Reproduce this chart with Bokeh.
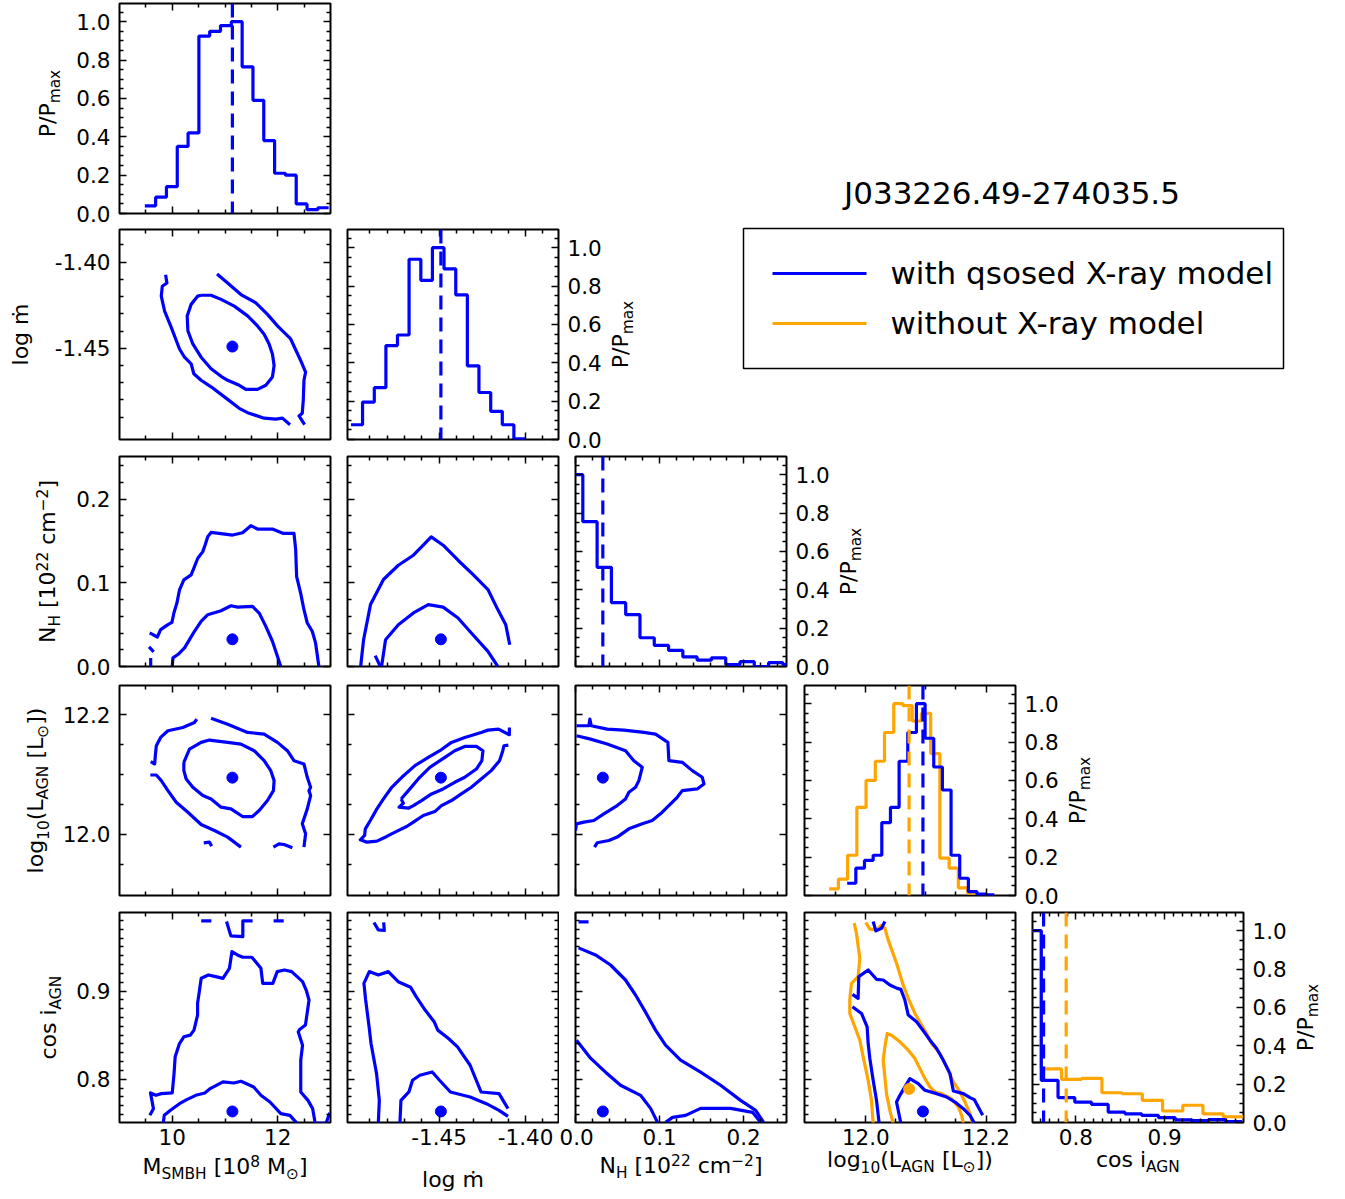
import math
from bokeh.plotting import figure
from bokeh.models import (Range1d, LinearAxis, FixedTicker, PrintfTickFormatter, Span,
                          Label, BoxAnnotation, ColumnDataSource)
from bokeh.core.properties import value
from bokeh.layouts import row, column
from bokeh.embed import file_html
from bokeh.resources import INLINE

BLUE = "#0000ff"
ORANGE = "#ffa500"
FONT = "DejaVu Sans"

TITLE = "J033226.49-274035.5"
LEGEND_LABELS = ["with qsosed X-ray model", "without X-ray model"]

# ---------------- best-fit values ----------------
BEST = [11.14, -1.449, 0.0325, 12.095, 0.7635]          # with X-ray model
BEST_NOX_L = 12.072                                       # without X-ray model
BEST_NOX_COS = 0.789

# ---------------- 1-D posteriors (P/Pmax) ----------------
HIST_M_EDGES = [9.48, 9.685, 9.89, 10.095, 10.30, 10.505, 10.71, 10.915, 11.12, 11.325,
                11.53, 11.735, 11.94, 12.145, 12.35, 12.555, 12.76, 12.965]
HIST_M_VALUES = [0.04, 0.085, 0.14, 0.35, 0.42, 0.925, 0.95, 0.98, 1.0, 0.765, 0.59, 0.38,
                 0.21, 0.20, 0.05, 0.02, 0.03]

HIST_MDOT_EDGES = [-1.501, -1.4943, -1.4875, -1.4808, -1.4741, -1.4674, -1.4606, -1.4539,
                   -1.4472, -1.4404, -1.4337, -1.4270, -1.4202, -1.4135, -1.4068, -1.4001]
HIST_MDOT_VALUES = [0.077, 0.195, 0.27, 0.49, 0.545, 0.94, 0.83, 1.0, 0.89, 0.754, 0.384,
                    0.245, 0.147, 0.077, 0.004]

HIST_NH_EDGES = [-0.0083, 0.0087, 0.0257, 0.0427, 0.0597, 0.0767, 0.0937, 0.1107, 0.1277,
                 0.1447, 0.1617, 0.1787, 0.1957, 0.2127, 0.2297, 0.2467, 0.2637]
HIST_NH_VALUES = [1.0, 0.755, 0.517, 0.333, 0.27, 0.15, 0.11, 0.084, 0.05, 0.033, 0.045,
                  0.01, 0.025, 0.0, 0.02, 0.01]

HIST_L_EDGES_X = [11.969, 11.9834, 11.9978, 12.0122, 12.0266, 12.041, 12.0554, 12.0698,
                  12.0842, 12.0986, 12.113, 12.1274, 12.1418, 12.1562, 12.1706, 12.185,
                  12.1994, 12.2138]
HIST_L_VALUES_X = [0.064, 0.143, 0.183, 0.21, 0.38, 0.46, 0.70, 0.85, 1.0, 0.82, 0.67, 0.55,
                   0.21, 0.09, 0.02, 0.007, 0.004]
HIST_L_EDGES_NOX = [11.939, 11.9544, 11.9697, 11.9851, 12.0004, 12.0158, 12.0311, 12.0465,
                    12.0618, 12.0772, 12.0925, 12.1079, 12.1232, 12.1386, 12.1539, 12.1693,
                    12.1846]
HIST_L_VALUES_NOX = [0.035, 0.085, 0.21, 0.46, 0.60, 0.70, 0.85, 1.0, 0.99, 0.91, 0.95, 0.74,
                     0.195, 0.143, 0.04, 0.012]

HIST_COS_EDGES_X = [0.742, 0.7609, 0.7798, 0.7987, 0.8176, 0.8364, 0.8553, 0.8742, 0.8931,
                    0.9120, 0.9308, 0.9497, 0.9686, 0.9875]
HIST_COS_VALUES_X = [1.0, 0.22, 0.13, 0.106, 0.094, 0.054, 0.045, 0.037, 0.025, 0.014, 0.01,
                     0.015, 0.005]
HIST_COS_EDGES_NOX = [0.7381, 0.7609, 0.7837, 0.8065, 0.8293, 0.8521, 0.8749, 0.8977, 0.9205,
                      0.9433, 0.9661, 0.9889]
HIST_COS_VALUES_NOX = [1.0, 0.28, 0.225, 0.23, 0.155, 0.15, 0.115, 0.06, 0.09, 0.045, 0.03]

# ---------------- 2-D contours (68% inner / 95% outer) ----------------
M_MDOT_OUTER_L = [(9.874, -1.4073), (9.899, -1.4121), (9.811, -1.4140), (9.792, -1.4197), (9.855, -1.4284),
                  (9.981, -1.4379), (10.138, -1.4504), (10.233, -1.4552), (10.358, -1.4590), (10.409, -1.4648),
                  (10.547, -1.4686), (10.736, -1.4724), (11.050, -1.4797), (11.270, -1.4849), (11.428, -1.4874),
                  (11.742, -1.4906), (11.962, -1.4912), (12.088, -1.4906), (12.233, -1.4944)]
M_MDOT_OUTER_R = [(10.849, -1.4069), (11.050, -1.4121), (11.302, -1.4188), (11.585, -1.4236), (11.805, -1.4303),
                  (11.994, -1.4370), (12.245, -1.4446), (12.434, -1.4571), (12.528, -1.4638), (12.497, -1.4686),
                  (12.484, -1.4801), (12.465, -1.4877), (12.403, -1.4893), (12.509, -1.4944)]
M_MDOT_INNER = [(10.547, -1.4192), (10.736, -1.4192), (10.925, -1.4216), (11.176, -1.4255), (11.428, -1.4312),
                (11.616, -1.4370), (11.742, -1.4418), (11.836, -1.4475), (11.899, -1.4533), (11.931, -1.4600),
                (11.899, -1.4667), (11.774, -1.4715), (11.616, -1.4739), (11.396, -1.4739), (11.270, -1.4715),
                (11.050, -1.4686), (10.925, -1.4663), (10.736, -1.4619), (10.547, -1.4552), (10.390, -1.4475),
                (10.296, -1.4398), (10.283, -1.4312), (10.358, -1.4245), (10.484, -1.4197), (10.547, -1.4192)]

M_NH_OUTER = [(9.572, 0.0401), (9.717, 0.0353), (9.780, 0.0440), (9.918, 0.0500), (9.994, 0.0528),
              (10.031, 0.0639), (10.088, 0.0758), (10.138, 0.0917), (10.220, 0.1036), (10.358, 0.1095),
              (10.421, 0.1194), (10.484, 0.1294), (10.579, 0.1373), (10.623, 0.1452), (10.673, 0.1552),
              (10.736, 0.1603), (11.145, 0.1571), (11.333, 0.1599), (11.491, 0.1683), (11.616, 0.1643),
              (11.899, 0.1643), (12.107, 0.1591), (12.308, 0.1591), (12.340, 0.1393), (12.358, 0.1075),
              (12.434, 0.0877), (12.497, 0.0679), (12.560, 0.0520), (12.654, 0.0421), (12.717, 0.0282),
              (12.780, 0.0)]
M_NH_OUTER_B = [(9.560, 0.0234), (9.648, 0.0175)]
M_NH_OUTER_C = [(9.591, 0.0103), (9.591, 0.0)]
M_NH_INNER = [(10.0, 0.0), (10.013, 0.0103), (10.107, 0.0143), (10.233, 0.0222), (10.327, 0.0321),
              (10.421, 0.0421), (10.547, 0.0540), (10.673, 0.0619), (10.925, 0.0667), (11.113, 0.0726),
              (11.239, 0.0710), (11.522, 0.0718), (11.648, 0.0639), (11.774, 0.0480), (11.899, 0.0302),
              (11.994, 0.0123), (12.057, 0.0)]

MDOT_NH_OUTER = [(-1.4954, 0.0), (-1.4937, 0.032), (-1.4897, 0.074), (-1.4822, 0.104), (-1.4736, 0.121),
                 (-1.4649, 0.133), (-1.4592, 0.145), (-1.4546, 0.155), (-1.4477, 0.145), (-1.4391, 0.127),
                 (-1.4305, 0.110), (-1.4218, 0.092), (-1.4161, 0.068), (-1.4115, 0.050), (-1.4092, 0.026)]
MDOT_NH_OUTER_B = [(-1.487, 0.013), (-1.484, 0.0)]
MDOT_NH_INNER = [(-1.4833, 0.0), (-1.4810, 0.032), (-1.4736, 0.050), (-1.4649, 0.064), (-1.4563, 0.074),
                 (-1.4477, 0.071), (-1.4391, 0.058), (-1.4305, 0.038), (-1.4218, 0.018), (-1.4161, 0.0)]

M_L_A = [(10.465, 12.1928), (10.421, 12.1872), (10.201, 12.1789), (9.918, 12.1733), (9.780, 12.1622),
         (9.698, 12.1483), (9.679, 12.1317), (9.667, 12.1178), (9.591, 12.1217)]
M_L_B = [(9.585, 12.0994), (9.698, 12.0994), (9.792, 12.0900), (9.918, 12.0733), (10.075, 12.0539),
         (10.296, 12.0372), (10.547, 12.0167), (10.799, 12.0067), (11.050, 11.9956), (11.302, 11.9789)]
M_L_C = [(10.597, 11.9861), (10.704, 11.9872), (10.748, 11.9806)]
M_L_D = [(11.918, 11.9789), (12.025, 11.9844), (12.119, 11.9833), (12.277, 11.9778)]
M_L_E = [(10.736, 12.1944), (11.050, 12.1844), (11.428, 12.1706), (11.742, 12.1678), (11.994, 12.1539),
         (12.182, 12.1400), (12.308, 12.1233), (12.497, 12.1178), (12.560, 12.0956), (12.623, 12.0789),
         (12.591, 12.0733), (12.623, 12.0650), (12.560, 12.0428), (12.465, 12.0178), (12.528, 12.0011),
         (12.497, 11.9789)]
M_L_INNER = [(10.220, 12.1206), (10.327, 12.1428), (10.547, 12.1539), (10.704, 12.1578), (11.050, 12.1539),
             (11.302, 12.1511), (11.553, 12.1400), (11.742, 12.1233), (11.868, 12.1067), (11.931, 12.0900),
             (11.918, 12.0733), (11.805, 12.0567), (11.648, 12.0400), (11.522, 12.0300), (11.333, 12.0300),
             (11.113, 12.0428), (10.925, 12.0456), (10.736, 12.0594), (10.579, 12.0650), (10.390, 12.0789),
             (10.264, 12.0928), (10.220, 12.1067), (10.220, 12.1206)]

MDOT_L_OUTER = [(-1.4094, 12.1789), (-1.4094, 12.1667), (-1.4157, 12.1761), (-1.4218, 12.1744), (-1.4257, 12.1706),
                (-1.4352, 12.1622), (-1.4429, 12.1539), (-1.4496, 12.1400), (-1.4563, 12.1289), (-1.4640, 12.1150),
                (-1.4716, 12.0956), (-1.4774, 12.0789), (-1.4822, 12.0594), (-1.4860, 12.0428), (-1.4898, 12.0233),
                (-1.4927, 12.0094), (-1.4931, 11.9983), (-1.4956, 11.9911), (-1.4918, 11.9872), (-1.4860, 11.9889),
                (-1.4803, 11.9967), (-1.4755, 12.0039), (-1.4688, 12.0133), (-1.4649, 12.0206), (-1.4592, 12.0317),
                (-1.4525, 12.0383), (-1.4487, 12.0483), (-1.4429, 12.0567), (-1.4372, 12.0678), (-1.4314, 12.0789),
                (-1.4257, 12.0928), (-1.4199, 12.1067), (-1.4151, 12.1233), (-1.4132, 12.1400), (-1.4126, 12.1483),
                (-1.4100, 12.1494)]
MDOT_L_INNER = [(-1.4720, 12.0594), (-1.4678, 12.0733), (-1.4621, 12.0928), (-1.4554, 12.1122), (-1.4467, 12.1289),
                (-1.4410, 12.1400), (-1.4352, 12.1472), (-1.4285, 12.1472), (-1.4247, 12.1400), (-1.4253, 12.1233),
                (-1.4285, 12.1094), (-1.4352, 12.0956), (-1.4410, 12.0872), (-1.4477, 12.0761), (-1.4544, 12.0678),
                (-1.4602, 12.0567), (-1.4649, 12.0483), (-1.4678, 12.0439), (-1.4732, 12.0456), (-1.4707, 12.0522),
                (-1.4720, 12.0594)]

NH_L_OUTER = [(0.0012, 12.1817), (0.0159, 12.1817), (0.0171, 12.1928), (0.0187, 12.1817), (0.0377, 12.1761),
              (0.0575, 12.1744), (0.0813, 12.1706), (0.0952, 12.1678), (0.1099, 12.1539), (0.1111, 12.1233),
              (0.1270, 12.1206), (0.1389, 12.1067), (0.1508, 12.0956), (0.1528, 12.0844), (0.1448, 12.0761),
              (0.1270, 12.0733), (0.1210, 12.0622), (0.1131, 12.0511), (0.1032, 12.0372), (0.0913, 12.0233),
              (0.0794, 12.0178), (0.0635, 12.0094), (0.0496, 11.9956), (0.0397, 11.9900), (0.0258, 11.9861),
              (0.0226, 11.9789)]
NH_L_INNER = [(0.0012, 12.1650), (0.0179, 12.1594), (0.0377, 12.1511), (0.0595, 12.1400), (0.0694, 12.1233),
              (0.0794, 12.1122), (0.0754, 12.0900), (0.0714, 12.0789), (0.0635, 12.0706), (0.0595, 12.0594),
              (0.0496, 12.0483), (0.0337, 12.0344), (0.0218, 12.0233), (0.0099, 12.0206), (0.0012, 12.0178),
              (0.0, 12.0067)]

M_COS_OUTER = [(9.575, 0.7591), (9.643, 0.7667), (9.588, 0.7845), (9.691, 0.7818), (9.794, 0.7837),
               (10.000, 0.7845), (10.034, 0.8064), (10.055, 0.8254), (10.137, 0.8405), (10.220, 0.8481),
               (10.343, 0.8500), (10.412, 0.8557), (10.480, 0.8727), (10.480, 0.8860), (10.515, 0.9004),
               (10.549, 0.9144), (10.686, 0.9182), (10.823, 0.9163), (10.961, 0.9144), (11.084, 0.9258),
               (11.132, 0.9447), (11.235, 0.9409), (11.338, 0.9383), (11.509, 0.9383), (11.681, 0.9258),
               (11.715, 0.9087), (11.907, 0.9087), (11.990, 0.9220), (12.127, 0.9239), (12.264, 0.9220),
               (12.470, 0.9106), (12.539, 0.9011), (12.593, 0.8898), (12.525, 0.8614), (12.415, 0.8564),
               (12.388, 0.8538), (12.470, 0.8386), (12.436, 0.8216), (12.436, 0.7856), (12.573, 0.7761),
               (12.662, 0.7667), (12.710, 0.75), (12.916, 0.75), (12.985, 0.7621)]
M_COS_TOP_A = [(10.549, 0.9795), (10.741, 0.9795)]
M_COS_TOP_B = [(11.029, 0.9788), (11.111, 0.9625), (11.338, 0.9617), (11.338, 0.9795), (11.523, 0.9795)]
M_COS_TOP_C = [(11.921, 0.9795), (12.113, 0.9795)]
M_COS_INNER = [(9.828, 0.75), (9.849, 0.7591), (9.966, 0.7648), (10.137, 0.7723), (10.274, 0.7769),
               (10.446, 0.7818), (10.617, 0.7845), (10.720, 0.7894), (10.961, 0.7970), (11.166, 0.7958),
               (11.304, 0.7977), (11.544, 0.7913), (11.681, 0.7818), (11.852, 0.7742), (12.058, 0.7610),
               (12.230, 0.7591), (12.367, 0.75)]

MDOT_COS_OUTER = [(-1.4852, 0.75), (-1.4846, 0.7761), (-1.4862, 0.8064), (-1.4894, 0.8405), (-1.4904, 0.8576),
                  (-1.4925, 0.8898), (-1.4935, 0.9087), (-1.4904, 0.9220), (-1.4852, 0.9182), (-1.4794, 0.9220),
                  (-1.4737, 0.9106), (-1.4665, 0.9042), (-1.4633, 0.8936), (-1.4581, 0.8784), (-1.4529, 0.8652),
                  (-1.4508, 0.8557), (-1.4446, 0.8462), (-1.4394, 0.8367), (-1.4321, 0.8159), (-1.4258, 0.7856),
                  (-1.4154, 0.7837), (-1.4102, 0.7667)]
MDOT_COS_INNER = [(-1.4727, 0.75), (-1.4721, 0.7761), (-1.4675, 0.7856), (-1.4654, 0.7989), (-1.4612, 0.8045),
                  (-1.4540, 0.8083), (-1.4498, 0.7989), (-1.4435, 0.7856), (-1.4321, 0.7799), (-1.4227, 0.7723),
                  (-1.4154, 0.7648), (-1.4102, 0.7580)]
MDOT_COS_TOP = [(-1.4877, 0.9777), (-1.4852, 0.9693), (-1.4817, 0.9686), (-1.4821, 0.9777)]

NH_COS_OUTER = [(0.0036, 0.9489), (0.0238, 0.9409), (0.0417, 0.9295), (0.0595, 0.9125), (0.0714, 0.8955),
                (0.0833, 0.8761), (0.0952, 0.8557), (0.1071, 0.8386), (0.1250, 0.8216), (0.1488, 0.8080),
                (0.1726, 0.7932), (0.1964, 0.7761), (0.2143, 0.7648), (0.2238, 0.7511)]
NH_COS_INNER_A = [(0.0012, 0.8443), (0.0179, 0.8239), (0.0357, 0.8080), (0.0536, 0.7932), (0.0774, 0.7818),
                  (0.0893, 0.7670), (0.0976, 0.7511)]
NH_COS_INNER_B = [(0.1071, 0.7511), (0.1155, 0.7568), (0.1310, 0.7591), (0.1488, 0.7670), (0.1845, 0.7670),
                  (0.2107, 0.7625), (0.2202, 0.7511)]
NH_COS_TOP = [(0.0036, 0.9784), (0.0155, 0.9784)]

L_COS_X_A = [(12.0222, 0.75), (12.0178, 0.7761), (12.0122, 0.7989), (12.0067, 0.8235), (12.0039, 0.8405),
             (12.0022, 0.8595), (11.9928, 0.8746), (11.9778, 0.8822)]
L_COS_X_B = [(11.9778, 0.8962), (11.9872, 0.8917), (11.9883, 0.9163), (12.0039, 0.9239), (12.0178, 0.9133),
             (12.0289, 0.9125), (12.0400, 0.9068), (12.0522, 0.9030), (12.0583, 0.9019), (12.0650, 0.8898),
             (12.0706, 0.8727), (12.0844, 0.8652), (12.0956, 0.8549), (12.1067, 0.8443), (12.1178, 0.8348),
             (12.1289, 0.8216), (12.1400, 0.8064), (12.1456, 0.7867), (12.1622, 0.7837), (12.1733, 0.7792),
             (12.1806, 0.7769), (12.1944, 0.7591)]
L_COS_X_INNER = [(12.0583, 0.75), (12.0511, 0.7742), (12.0567, 0.7818), (12.0650, 0.7913), (12.0733, 0.8008),
                 (12.0872, 0.7951), (12.0983, 0.7875), (12.1178, 0.7837), (12.1344, 0.7799), (12.1483, 0.7742),
                 (12.1622, 0.7667), (12.1733, 0.7591), (12.1806, 0.75)]
L_COS_X_TOP = [(12.0122, 0.9788), (12.0167, 0.9682), (12.0261, 0.9712), (12.0317, 0.9788)]

L_COS_NOX_LEFT = [(11.9806, 0.9769), (11.9844, 0.9655), (11.9900, 0.9371), (11.9872, 0.9163), (11.9761, 0.9087),
                  (11.9733, 0.8898), (11.9733, 0.8746), (11.9817, 0.8595), (11.9900, 0.8443), (11.9956, 0.8254),
                  (12.0039, 0.7989), (12.0094, 0.7761), (12.0122, 0.75)]
L_COS_NOX_TOP = [(12.0, 0.9777), (12.0067, 0.9701), (12.0189, 0.9693), (12.0244, 0.9739)]
L_COS_NOX_RIGHT = [(12.0233, 0.9750), (12.0317, 0.9712), (12.0372, 0.9580), (12.0511, 0.9314), (12.0622, 0.9068),
                   (12.0706, 0.8917), (12.0817, 0.8746), (12.0928, 0.8614), (12.1011, 0.8519), (12.1094, 0.8405),
                   (12.1233, 0.8292), (12.1344, 0.8140), (12.1456, 0.7970), (12.1567, 0.7856), (12.1650, 0.7742),
                   (12.1733, 0.7610), (12.1778, 0.75)]
L_COS_NOX_INNER = [(12.0456, 0.75), (12.0400, 0.7648), (12.0344, 0.7837), (12.0317, 0.8027), (12.0289, 0.8216),
                   (12.0317, 0.8367), (12.0356, 0.8519), (12.0428, 0.8500), (12.0567, 0.8424), (12.0706, 0.8330),
                   (12.0817, 0.8235), (12.0900, 0.8121), (12.0983, 0.8008), (12.1067, 0.7913), (12.1150, 0.7856),
                   (12.1261, 0.7837), (12.1428, 0.7780), (12.1539, 0.7686), (12.1594, 0.7591), (12.1622, 0.75)]

# ---------------- axis definitions ----------------
AX_M = dict(range=(9.0, 13.0), ticks=[10, 12], minor=[9.5, 10.5, 11.0, 11.5, 12.5], fmt="%d")
AX_MDOT = dict(range=(-1.503, -1.381), ticks=[-1.45, -1.40],
               minor=[-1.49, -1.48, -1.47, -1.46, -1.44, -1.43, -1.42, -1.41, -1.39], fmt="%.2f")
AX_NH = dict(range=(0.0, 0.251), ticks=[0.0, 0.1, 0.2],
             minor=[0.02, 0.04, 0.06, 0.08, 0.12, 0.14, 0.16, 0.18, 0.22, 0.24], fmt="%.1f")
AX_L = dict(range=(11.898, 12.249), ticks=[12.0, 12.2], minor=[11.95, 12.05, 12.10, 12.15], fmt="%.1f")
AX_COS = dict(range=(0.751, 0.989), ticks=[0.8, 0.9],
              minor=[0.76, 0.77, 0.78, 0.79, 0.81, 0.82, 0.83, 0.84, 0.85, 0.86, 0.87, 0.88, 0.89,
                     0.91, 0.92, 0.93, 0.94, 0.95, 0.96, 0.97, 0.98], fmt="%.1f")
AX_HIST = dict(range=(0.0, 1.095), ticks=[0.0, 0.2, 0.4, 0.6, 0.8, 1.0],
               minor=[0.05, 0.1, 0.15, 0.25, 0.3, 0.35, 0.45, 0.5, 0.55, 0.65, 0.7, 0.75, 0.85, 0.9,
                      0.95, 1.05], fmt="%.1f")
AXES = [AX_M, AX_MDOT, AX_NH, AX_L, AX_COS]

HISTS = {
    0: [(BLUE, HIST_M_EDGES, HIST_M_VALUES)],
    1: [(BLUE, HIST_MDOT_EDGES, HIST_MDOT_VALUES)],
    2: [(BLUE, HIST_NH_EDGES, HIST_NH_VALUES)],
    3: [(ORANGE, HIST_L_EDGES_NOX, HIST_L_VALUES_NOX), (BLUE, HIST_L_EDGES_X, HIST_L_VALUES_X)],
    4: [(ORANGE, HIST_COS_EDGES_NOX, HIST_COS_VALUES_NOX), (BLUE, HIST_COS_EDGES_X, HIST_COS_VALUES_X)],
}
HIST_DASH = {0: [(BLUE, BEST[0])], 1: [(BLUE, BEST[1])], 2: [(BLUE, BEST[2])],
             3: [(ORANGE, BEST_NOX_L), (BLUE, BEST[3])], 4: [(ORANGE, BEST_NOX_COS), (BLUE, BEST[4])]}

CONTOURS = {
    (1, 0): [(BLUE, [M_MDOT_OUTER_L, M_MDOT_OUTER_R, M_MDOT_INNER])],
    (2, 0): [(BLUE, [M_NH_OUTER, M_NH_OUTER_B, M_NH_OUTER_C, M_NH_INNER])],
    (2, 1): [(BLUE, [MDOT_NH_OUTER, MDOT_NH_OUTER_B, MDOT_NH_INNER])],
    (3, 0): [(BLUE, [M_L_A, M_L_B, M_L_C, M_L_D, M_L_E, M_L_INNER])],
    (3, 1): [(BLUE, [MDOT_L_OUTER, MDOT_L_INNER])],
    (3, 2): [(BLUE, [NH_L_OUTER, NH_L_INNER])],
    (4, 0): [(BLUE, [M_COS_OUTER, M_COS_TOP_A, M_COS_TOP_B, M_COS_TOP_C, M_COS_INNER])],
    (4, 1): [(BLUE, [MDOT_COS_OUTER, MDOT_COS_INNER, MDOT_COS_TOP])],
    (4, 2): [(BLUE, [NH_COS_OUTER, NH_COS_INNER_A, NH_COS_INNER_B, NH_COS_TOP])],
    (4, 3): [(ORANGE, [L_COS_NOX_LEFT, L_COS_NOX_TOP, L_COS_NOX_RIGHT, L_COS_NOX_INNER]),
             (BLUE, [L_COS_X_A, L_COS_X_B, L_COS_X_INNER, L_COS_X_TOP])],
}

# ---------------- label texts (segments: normal / sub / sup) ----------------
LBL_PP = [("P/P", "n"), ("max", "sub")]
LBL_M = [("M", "n"), ("SMBH", "sub"), (" [10", "n"), ("8", "sup"), (" M", "n"), ("\u2299", "sub"), ("]", "n")]
LBL_MDOT = [("log \u1e41", "n")]
LBL_NH = [("N", "n"), ("H", "sub"), (" [10", "n"), ("22", "sup"), (" cm", "n"), ("\u22122", "sup"), ("]", "n")]
LBL_L = [("log", "n"), ("10", "sub"), ("(L", "n"), ("AGN", "sub"), (" [L", "n"), ("\u2299", "sub"), ("])", "n")]
LBL_COS = [("cos i", "n"), ("AGN", "sub")]
LABELS = [LBL_M, LBL_MDOT, LBL_NH, LBL_L, LBL_COS]

# ---------------- layout constants (pixels) ----------------
FRAME_W, FRAME_H = 211, 210
TOP_B = [3, 3, 4, 6, 4]
BOT_B = [13, 13, 13, 13, 77]
BOTTOM_TITLE_DROP = [52, 65, 51, 45, 45]        # baseline below frame
LEFT_TITLE_DX = [-64, -91, -64, -76, -63]       # baseline x relative to frame left
LEFT_TITLE_DY = [5, 0, 0, 0, 0]
RIGHT_TITLE_DX = 70
TICK_FS = "21.5px"
LABEL_FS = 22.0
BIG_FS = 31.0
MID = 0.346          # em distance from alphabetic baseline up to the em-box middle (DejaVu Sans)
LW = 3.2


def borders(r, c):
    hist = (r == c)
    lb = [119, 9, 9, 9, 9][c]
    rb = [8, 8, 9, 8, 102][c]
    if hist and c >= 1:
        rb = 100 if c < 4 else 102
    if r == 4 and c == 1:
        rb = 1
    if r == 4 and c == 2:
        lb = 16
    return lb, rb


EM = {" ": 0.318, "0": 0.636, "1": 0.636, "2": 0.636, "8": 0.636, ".": 0.318, "-": 0.361,
      "/": 0.337, "[": 0.390, "]": 0.390, "(": 0.390, ")": 0.390, "A": 0.684, "B": 0.686,
      "G": 0.775, "H": 0.752, "L": 0.557, "M": 0.863, "N": 0.748, "P": 0.603, "S": 0.635,
      "a": 0.613, "c": 0.550, "g": 0.635, "i": 0.278, "l": 0.278, "m": 0.974, "o": 0.612,
      "s": 0.521, "x": 0.592, "\u2299": 0.838, "\u1e41": 0.974, "\u2212": 0.838}


def tw(s, fs):
    return sum(EM.get(ch, 0.6) for ch in s) * fs


def rich_label(p, x, y, segs, xoff, yoff, vertical=False, fs=LABEL_FS):
    """Text made of normal/sub/superscript pieces, drawn as overlay-level text glyphs
    anchored at a data point and shifted by screen pixels; (xoff, yoff) is the baseline
    centre of the whole label (yoff > 0 = up)."""
    sfs = fs * 0.7
    sizes = [fs if k == "n" else sfs for _, k in segs]
    total = sum(tw(t, s) for (t, _), s in zip(segs, sizes))
    cur = -total / 2.0
    d = dict(x=[], y=[], text=[], xo=[], yo=[], fs=[], ang=[])
    for (t, k), s in zip(segs, sizes):
        lead = len(t) - len(t.lstrip(" "))
        cur += tw(" " * lead, s)
        t = t.lstrip(" ")
        shift = 0.0 if k == "n" else (-5.0 if k == "sub" else 8.5)
        up = shift + MID * s          # from label baseline to this piece's em-box middle
        if vertical:
            lx, ly, ang = xoff - up, yoff + cur, math.pi / 2
        else:
            lx, ly, ang = xoff + cur, yoff + up, 0.0
        d["x"].append(x)
        d["y"].append(y)
        d["text"].append(t)
        d["xo"].append(lx)
        d["yo"].append(-ly)
        d["fs"].append(f"{s:.1f}px")
        d["ang"].append(ang)
        cur += tw(t, s)
    p.text(x="x", y="y", text="text", x_offset="xo", y_offset="yo", angle="ang",
           text_font_size="fs", text_font=value(FONT), text_color="black",
           text_align="left", text_baseline="middle", level="overlay",
           source=ColumnDataSource(d))


def add_axis(p, side, ax, show):
    a = LinearAxis(ticker=FixedTicker(ticks=ax["ticks"], minor_ticks=ax["minor"]))
    a.axis_line_color = None
    a.major_tick_in, a.major_tick_out = 7, 0
    a.minor_tick_in, a.minor_tick_out = 4, 0
    a.major_tick_line_width = 1.5
    a.minor_tick_line_width = 1.5
    a.major_tick_line_color = "black"
    a.minor_tick_line_color = "black"
    if show:
        a.formatter = PrintfTickFormatter(format=ax["fmt"])
        a.major_label_text_font = FONT
        a.major_label_text_font_size = TICK_FS
        a.major_label_text_color = "black"
        a.major_label_standoff = 9 if side in ("left", "right") else 6
    else:
        a.major_label_text_font_size = "0px"
        a.major_label_text_color = None
        a.major_label_standoff = 0
    p.add_layout(a, side)


def make_panel(r, c):
    hist = (r == c)
    lb, rb = borders(r, c)
    tb, bb = TOP_B[r], BOT_B[r]
    xa = AXES[c]
    ya = AX_HIST if hist else AXES[r]
    p = figure(width=lb + FRAME_W + rb, height=tb + FRAME_H + bb,
               x_range=Range1d(*xa["range"]), y_range=Range1d(*ya["range"]),
               x_axis_type=None, y_axis_type=None, tools="", toolbar_location=None,
               output_backend="svg", min_border_left=lb, min_border_right=rb,
               min_border_top=tb, min_border_bottom=bb, title_location=None,
               outline_line_color="black", outline_line_width=2,
               background_fill_color="white", border_fill_color="white")
    add_axis(p, "below", xa, r == 4)
    add_axis(p, "above", xa, False)
    add_axis(p, "left", ya, c == 0)
    add_axis(p, "right", ya, hist and c >= 1)

    if hist:
        for color, edges, vals in HISTS[c]:
            p.step(x=edges, y=list(vals) + [vals[-1]], mode="after", line_color=color, line_width=LW)
        for color, loc in HIST_DASH[c]:
            p.add_layout(Span(location=loc, dimension="height", line_color=color,
                              line_width=LW, line_dash="14 8"))
    else:
        for color, pieces in CONTOURS[(r, c)]:
            p.multi_line(xs=[[q[0] for q in pc] for pc in pieces],
                         ys=[[q[1] for q in pc] for pc in pieces],
                         line_color=color, line_width=LW, line_join="round")
        if (r, c) == (4, 3):
            p.scatter(x=[BEST_NOX_L], y=[BEST_NOX_COS], size=11, marker="circle",
                      fill_color=ORANGE, line_color=ORANGE)
        p.scatter(x=[BEST[c]], y=[BEST[r]], size=11, marker="circle",
                  fill_color=BLUE, line_color=BLUE)

    x0, x1 = xa["range"]
    y0, y1 = ya["range"]
    if r == 4:
        rich_label(p, (x0 + x1) / 2, y0, LABELS[c], 0, -BOTTOM_TITLE_DROP[c])
    if c == 0:
        segs = LBL_PP if hist else LABELS[r]
        rich_label(p, x0, (y0 + y1) / 2, segs, LEFT_TITLE_DX[r], LEFT_TITLE_DY[r], vertical=True)
    if hist and c >= 1:
        rich_label(p, x1, (y0 + y1) / 2, LBL_PP, RIGHT_TITLE_DX, 0, vertical=True)
    return p


F = [[make_panel(r, c) if c <= r else None for c in range(5)] for r in range(5)]

# ---------------- title + legend panel (its own pixel-scaled frame) ----------------
LEFT_BLOCK_W = F[1][0].width + F[1][1].width
LEG_W = 1345 - LEFT_BLOCK_W
LEG_H = F[0][0].height + F[1][0].height
TITLE_POS = (1011.5 - LEFT_BLOCK_W, LEG_H - 203 + MID * BIG_FS)
LEG_BOX = dict(left=743 - LEFT_BLOCK_W, right=1283 - LEFT_BLOCK_W, top=LEG_H - 228, bottom=LEG_H - 368)
LEG_LINE_X = (772 - LEFT_BLOCK_W, 866 - LEFT_BLOCK_W)
LEG_LINE_Y = [LEG_H - 273, LEG_H - 323]
LEG_TEXT_X = 890 - LEFT_BLOCK_W
LEG_TEXT_Y = [LEG_H - 283 + MID * BIG_FS, LEG_H - 333 + MID * BIG_FS]

pl = figure(width=LEG_W, height=LEG_H, x_range=Range1d(0, LEG_W), y_range=Range1d(0, LEG_H),
            x_axis_type=None, y_axis_type=None, tools="", toolbar_location=None,
            output_backend="svg", min_border_left=0, min_border_right=0, min_border_top=0,
            min_border_bottom=0, title_location=None, outline_line_color=None,
            background_fill_color="white", border_fill_color="white")
pl.add_layout(Label(x=TITLE_POS[0], y=TITLE_POS[1], text=TITLE, text_font=FONT,
                    text_font_size=f"{BIG_FS:.0f}px", text_align="center", text_baseline="middle",
                    text_color="black"))
pl.add_layout(BoxAnnotation(left=LEG_BOX["left"], right=LEG_BOX["right"], top=LEG_BOX["top"],
                            bottom=LEG_BOX["bottom"], fill_color=None, fill_alpha=0,
                            line_color="black", line_alpha=1.0, line_width=1.5))
for color, ly, ty, lab in zip([BLUE, ORANGE], LEG_LINE_Y, LEG_TEXT_Y, LEGEND_LABELS):
    pl.line(x=list(LEG_LINE_X), y=[ly, ly], line_color=color, line_width=LW)
    pl.add_layout(Label(x=LEG_TEXT_X, y=ty, text=lab, text_font=FONT,
                        text_font_size=f"{BIG_FS:.0f}px", text_align="left",
                        text_baseline="middle", text_color="black"))

layout = column(
    row(column(F[0][0], row(F[1][0], F[1][1])), pl),
    row(F[2][0], F[2][1], F[2][2]),
    row(F[3][0], F[3][1], F[3][2], F[3][3]),
    row(F[4][0], F[4][1], F[4][2], F[4][3], F[4][4]),
)

open("out.html", "w").write(file_html(layout, INLINE, title="corner plot"))
